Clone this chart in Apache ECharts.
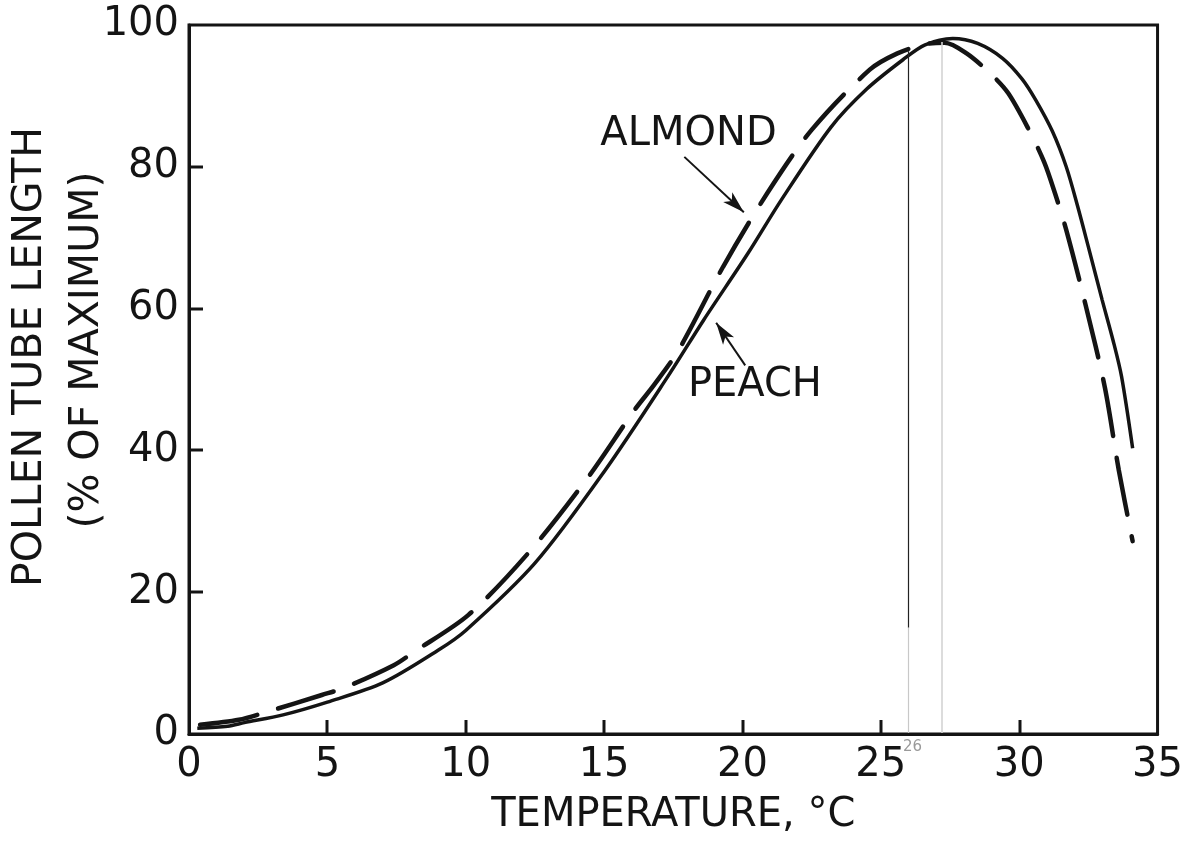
<!DOCTYPE html>
<html>
<head>
<meta charset="utf-8">
<script src="https://cdn.jsdelivr.net/npm/echarts@6/dist/echarts.min.js"></script>
<style>
html,body{margin:0;padding:0;background:#fff;}
#chart{width:1186px;height:846px;}
</style>
</head>
<body>
<div id="chart"></div>
<script>
// Temperature (°C) and pollen tube length (% of maximum)
var peachTemp = [0.3, 1.4, 2.0, 3.4, 5.0, 7.0, 9.0, 10.0, 12.5, 15.0, 17.3, 18.6, 20.2, 21.4, 23.2, 24.5, 25.8, 26.6, 27.6, 28.5, 29.4, 30.1, 30.6, 31.2, 31.7, 32.1, 32.5, 33.0, 33.4, 33.7, 34.1];
var peachLen  = [0.8, 1.1, 1.6, 2.7, 4.5, 7.2, 11.8, 14.6, 24.1, 37.0, 50.4, 58.4, 67.8, 75.3, 85.6, 91.0, 95.1, 97.2, 98.1, 97.4, 95.3, 92.4, 89.4, 85.0, 80.0, 74.6, 68.7, 61.2, 55.4, 50.4, 40.3];

var almondTemp = [0.4, 1.8, 2.8, 4.8, 5.6, 7.4, 8.1, 10.1, 12.3, 14.4, 16.1, 16.8, 17.7, 19.3, 20.9, 22.5, 24.6, 25.6, 26.6, 27.3, 28.1, 29.0, 29.6, 30.3, 30.9, 31.3, 31.7, 32.4, 33.1, 33.6, 34.1];
var almondLen  = [1.3, 2.0, 3.1, 5.5, 6.5, 9.7, 11.5, 16.8, 25.7, 36.1, 45.7, 49.2, 54.2, 65.9, 76.3, 85.2, 93.7, 96.0, 97.3, 97.5, 96.0, 93.0, 90.4, 85.6, 80.7, 76.2, 71.1, 60.5, 48.8, 37.2, 27.2];

var xTicks = [0, 5, 10, 15, 20, 25, 30, 35];
var yTicks = [0, 20, 40, 60, 80, 100];

var seriesNames = ['PEACH', 'ALMOND'];
var yTitle1 = 'POLLEN TUBE LENGTH';
var yTitle2 = '(% OF MAXIMUM)';
var xTitle = 'TEMPERATURE, °C';
var pencilNote = '26';

function zip(a, b) { return a.map(function (v, i) { return [v, b[i]]; }); }

var FONT = 'DejaVu Sans';
var INK = '#141414';
var TICK_LEN = 14;
var W = 1186, H = 846;
var G = {left: 189, right: 28, top: 25, bottom: 112};
var X_MIN = 0, X_MAX = 35, Y_MIN = 0, Y_MAX = 100;

// axis scale helpers (grid layout -> pixels), used only for the tick marks on the frame
var plotW = W - G.left - G.right, plotH = H - G.top - G.bottom;
function sx(v) { return G.left + (v - X_MIN) / (X_MAX - X_MIN) * plotW; }
function sy(v) { return G.top + plotH - (v - Y_MIN) / (Y_MAX - Y_MIN) * plotH; }

var graphics = [
  {type: 'text', x: 30, y: 357, rotation: Math.PI / 2,
    style: {text: yTitle1, fontFamily: FONT, fontSize: 41, fill: INK, align: 'center', verticalAlign: 'middle'}},
  {type: 'text', x: 87, y: 350, rotation: Math.PI / 2,
    style: {text: yTitle2, fontFamily: FONT, fontSize: 41, fill: INK, align: 'center', verticalAlign: 'middle'}},
  {type: 'text', x: 903, y: 740,
    style: {text: pencilNote, fontFamily: FONT, fontSize: 15, fill: '#9a9a9a'}}
];
xTicks.slice(1, -1).forEach(function (v) {
  var x = Math.round(sx(v)), y = sy(Y_MIN);
  graphics.push({type: 'rect', silent: true, z: 100,
    shape: {x: x - 1.5, y: y - TICK_LEN, width: 3, height: TICK_LEN},
    style: {fill: INK}});
});
yTicks.slice(1, -1).forEach(function (v) {
  var x = sx(X_MIN), y = Math.round(sy(v));
  graphics.push({type: 'rect', silent: true, z: 100,
    shape: {x: x, y: y - 1.5, width: TICK_LEN, height: 3},
    style: {fill: INK}});
});

var chart = echarts.init(document.getElementById('chart'), null, {renderer: 'canvas'});
chart.setOption({
  backgroundColor: '#ffffff',
  animation: false,
  grid: {left: G.left, right: G.right, top: G.top, bottom: G.bottom, show: true, borderColor: INK, borderWidth: 3, backgroundColor: 'transparent'},
  xAxis: {
    type: 'value', min: X_MIN, max: X_MAX, interval: 5, z: 10,
    name: xTitle, nameLocation: 'middle', nameGap: 62,
    nameTextStyle: {fontFamily: FONT, fontSize: 40, color: INK},
    axisLine: {show: true, onZero: false, lineStyle: {color: INK, width: 3}},
    axisTick: {show: false},
    axisLabel: {fontFamily: FONT, fontSize: 40, color: INK, margin: 12,
      formatter: function (v) { return xTicks.indexOf(v) >= 0 ? String(v) : ''; }},
    splitLine: {show: false}
  },
  yAxis: {
    type: 'value', min: Y_MIN, max: Y_MAX, interval: 20, z: 10,
    axisLine: {show: true, onZero: false, lineStyle: {color: INK, width: 3}},
    axisTick: {show: false},
    axisLabel: {fontFamily: FONT, fontSize: 40, color: INK, margin: 10,
      formatter: function (v) { return yTicks.indexOf(v) >= 0 ? String(v) : ''; }},
    splitLine: {show: false}
  },
  graphic: graphics,
  series: [
    {
      name: seriesNames[0], type: 'line', data: zip(peachTemp, peachLen),
      showSymbol: false, symbol: 'none', smooth: 0.3,
      lineStyle: {color: INK, width: 3.5, type: 'solid'},
      z: 3,
      markLine: {
        silent: true, symbol: ['none', 'none'], label: {show: false},
        data: [
          [{coord: [26, 96.3], lineStyle: {color: '#222', width: 1.2, type: 'solid'}}, {coord: [26, 15]}],
          [{coord: [26, 15], lineStyle: {color: '#c8c8c8', width: 1.2, type: 'solid'}}, {coord: [26, 0]}],
          [{coord: [27.2, 0], lineStyle: {color: '#d4d4d4', width: 1.6, type: 'solid'}}, {coord: [27.2, 97.6]}]
        ]
      },
      markPoint: {
        silent: true, symbol: 'rect', symbolSize: 1, itemStyle: {color: 'rgba(0,0,0,0)'},
        label: {show: true, position: 'inside', fontFamily: FONT, fontSize: 40, color: INK, formatter: '{b}'},
        data: [{name: seriesNames[0], coord: [20.45, 49.1]}]
      }
    },
    {
      name: seriesNames[1], type: 'line', data: zip(almondTemp, almondLen),
      showSymbol: false, symbol: 'none', smooth: 0.3,
      lineStyle: {color: INK, width: 4.5, type: [58, 22], cap: 'round'},
      z: 3,
      markLine: {
        silent: true, label: {show: false},
        symbol: ['none', 'arrow'], symbolSize: [10, 22],
        lineStyle: {color: INK, width: 2, type: 'solid'},
        data: [
          [{coord: [17.9, 81.4]}, {coord: [20.05, 73.6]}]
        ]
      },
      markPoint: {
        silent: true, symbol: 'rect', symbolSize: 1, itemStyle: {color: 'rgba(0,0,0,0)'},
        label: {show: true, position: 'inside', fontFamily: FONT, fontSize: 40, color: INK, formatter: '{b}'},
        data: [{name: seriesNames[1], coord: [18.05, 84.6]}]
      }
    },
    {
      name: 'arrowPeach', type: 'line', data: [],
      markLine: {
        silent: true, label: {show: false},
        symbol: ['none', 'arrow'], symbolSize: [10, 22],
        lineStyle: {color: INK, width: 2, type: 'solid'},
        data: [
          [{coord: [20.1, 52.0]}, {coord: [19.05, 58.0]}]
        ]
      }
    }
  ]
});
</script>
</body>
</html>
